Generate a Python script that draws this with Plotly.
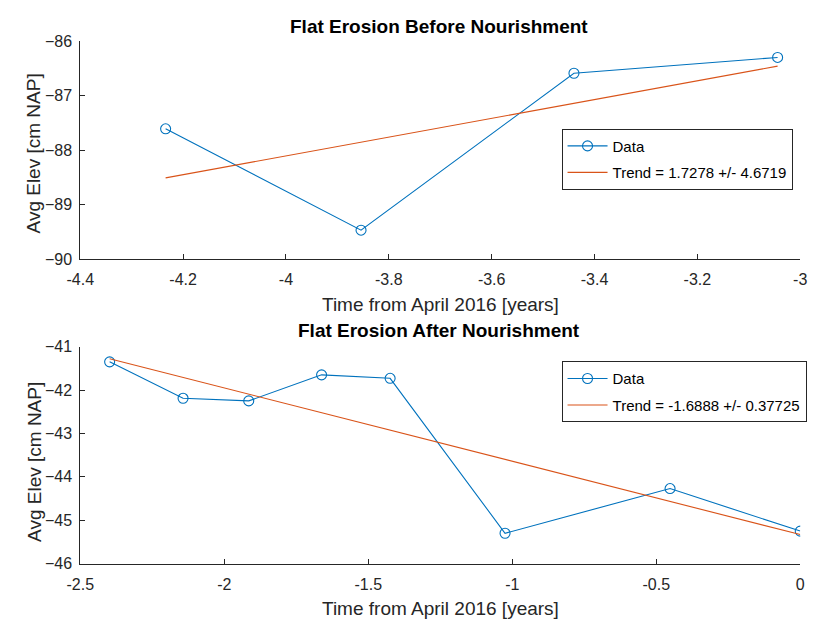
import plotly.graph_objects as go

# Before nourishment
t_before = [-4.234, -3.854, -3.440, -3.044]
elev_before = [-87.61, -89.47, -86.59, -86.30]
trend_before_x = [-4.234, -3.044]
trend_before_y = [-88.51, -86.46]
label_before = "Trend = 1.7278 +/- 4.6719"

# After nourishment
t_after = [-2.398, -2.143, -1.915, -1.662, -1.424, -1.025, -0.452, 0.0]
elev_after = [-41.35, -42.19, -42.25, -41.65, -41.73, -45.30, -44.27, -45.25]
trend_after_x = [-2.398, 0.0]
trend_after_y = [-41.28, -45.33]
label_after = "Trend = -1.6888 +/- 0.37725"

xticks_before = [-4.4, -4.2, -4.0, -3.8, -3.6, -3.4, -3.2, -3.0]
xticklabels_before = ["-4.4", "-4.2", "-4", "-3.8", "-3.6", "-3.4", "-3.2", "-3"]
yticks_before = [-90, -89, -88, -87, -86]
xticks_after = [-2.5, -2.0, -1.5, -1.0, -0.5, 0.0]
xticklabels_after = ["-2.5", "-2", "-1.5", "-1", "-0.5", "0"]
yticks_after = [-46, -45, -44, -43, -42, -41]

BLUE = "#0072BD"
ORANGE = "#D95319"
AX = "#262626"
FONT = "Liberation Sans, Arial, sans-serif"

W, H = 816, 632
def px(x):
    return x / W
def py(y):
    return 1 - y / H

fig = go.Figure()

marker = dict(symbol="circle-open", size=10, color=BLUE, line=dict(width=1.1))
fig.add_trace(go.Scatter(x=t_before, y=elev_before, mode="lines+markers", name="Data",
                         line=dict(color=BLUE, width=1.1), marker=marker, legendgroup="a",
                         xaxis="x", yaxis="y", legend="legend"))
fig.add_trace(go.Scatter(x=trend_before_x, y=trend_before_y, mode="lines", name=label_before,
                         line=dict(color=ORANGE, width=1.1), legendgroup="b",
                         xaxis="x", yaxis="y", legend="legend"))
fig.add_trace(go.Scatter(x=t_after, y=elev_after, mode="lines+markers", name="Data",
                         line=dict(color=BLUE, width=1.1), marker=marker, legendgroup="c",
                         xaxis="x2", yaxis="y2", legend="legend2"))
fig.add_trace(go.Scatter(x=trend_after_x, y=trend_after_y, mode="lines", name=label_after,
                         line=dict(color=ORANGE, width=1.1), legendgroup="d",
                         xaxis="x2", yaxis="y2", legend="legend2"))

axis_common = dict(showgrid=False, zeroline=False, showline=True, linecolor=AX, linewidth=1,
                   ticks="inside", ticklen=5, tickcolor=AX, tickwidth=1,
                   tickfont=dict(family=FONT, size=16, color=AX), mirror=False)

top_dom = [py(258), py(34)]
bot_dom = [py(571), py(348)]
x_dom = [px(68), px(807)]

legend_common = dict(xanchor="left", yanchor="top", bgcolor="white",
                     bordercolor=AX, borderwidth=1,
                     font=dict(family=FONT, size=15, color="#000000"),
                     tracegroupgap=4, itemwidth=40)

fig.update_layout(
    width=W, height=H, margin=dict(l=0, r=0, t=0, b=0),
    paper_bgcolor="white", plot_bgcolor="white",
    font=dict(family=FONT, color=AX),
    xaxis=dict(domain=x_dom, range=[-4.4, -3.0], tickvals=xticks_before, ticktext=xticklabels_before,
               anchor="y", ticklabelstandoff=6, **axis_common),
    yaxis=dict(domain=top_dom, range=[-90, -86], tickvals=yticks_before, anchor="x",
               ticklabelstandoff=4, **axis_common),
    xaxis2=dict(domain=x_dom, range=[-2.5, 0.0], tickvals=xticks_after, ticktext=xticklabels_after,
                anchor="y2", ticklabelstandoff=6, **axis_common),
    yaxis2=dict(domain=bot_dom, range=[-46, -41], tickvals=yticks_after, anchor="x2",
                ticklabelstandoff=4, **axis_common),
    legend=dict(x=px(562), y=py(124), **legend_common),
    legend2=dict(x=px(562), y=py(363), **legend_common),
    showlegend=True,
)

annotations = [
    dict(text="<b>Flat Erosion Before Nourishment</b>", x=px(436), y=py(19), font=dict(size=19, color="#000000")),
    dict(text="<b>Flat Erosion After Nourishment</b>", x=px(436), y=py(331), font=dict(size=19, color="#000000")),
    dict(text="Time from April 2016 [years]", x=px(438), y=py(305), font=dict(size=19, color=AX)),
    dict(text="Time from April 2016 [years]", x=px(438), y=py(617), font=dict(size=19, color=AX)),
    dict(text="Avg Elev [cm NAP]", x=px(21), y=py(149), textangle=-90, font=dict(size=19, color=AX)),
    dict(text="Avg Elev [cm NAP]", x=px(21), y=py(466), textangle=-90, font=dict(size=19, color=AX)),
]
for a in annotations:
    fig.add_annotation(xref="paper", yref="paper", showarrow=False, xanchor="center", yanchor="middle",
                       font_family=FONT, **a)

fig.write_html("out.html", config={"displayModeBar": False},
               post_script="document.body.style.margin='0px';")
